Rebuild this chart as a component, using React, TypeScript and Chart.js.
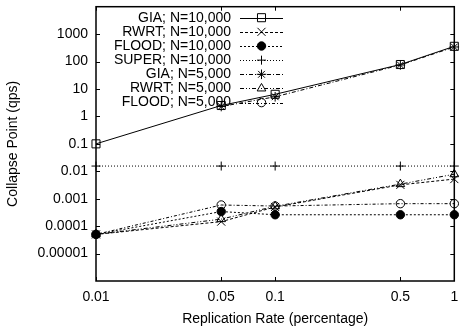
import React, { useEffect, useRef } from 'react';
import { Chart, registerables } from 'chart.js';
import { drawPoint } from 'chart.js/helpers';

Chart.register(...registerables);

// ---- data ----
const rates = [0.01, 0.05, 0.1, 0.5, 1];
const xTickLabels = ['0.01', '0.05', '0.1', '0.5', '1'];
const yTickValues = [1e-5, 1e-4, 1e-3, 1e-2, 1e-1, 1, 10, 100, 1000];
const yTickLabels = ['0.00001', '0.0001', '0.001', '0.01', '0.1', '1', '10', '100', '1000'];

const seriesLabels = [
  'GIA; N=10,000',
  'RWRT; N=10,000',
  'FLOOD; N=10,000',
  'SUPER; N=10,000',
  'GIA; N=5,000',
  'RWRT; N=5,000',
  'FLOOD; N=5,000',
];
const gia10k = [0.1, 2.5, 6.4, 78, 360];
const rwrt10k = [5e-5, 1.46e-4, 5.0e-4, 3.2e-3, 5.2e-3];
const flood10k = [5e-5, 3.4e-4, 2.6e-4, 2.6e-4, 2.6e-4];
const super10k = [0.0155, 0.0155, 0.0155, 0.0155, 0.0155];
const gia5k = [null, 2.3, 5.2, 75, 340];
const rwrt5k = [5e-5, 1.8e-4, 5.3e-4, 3.4e-3, 7.8e-3];
const flood5k = [5e-5, 5.9e-4, 5.4e-4, 6.6e-4, 6.6e-4];

const seriesValues = [gia10k, rwrt10k, flood10k, super10k, gia5k, rwrt5k, flood5k];

// ---- styles ----
const seriesStyles = [
  { dash: [], point: 'rect', radius: 5.7, fill: 'rgba(0,0,0,0)' },
  { dash: [3, 2], point: 'crossRot', radius: 5.7, fill: 'rgba(0,0,0,0)' },
  { dash: [2, 2], point: 'circle', radius: 4.2, fill: '#000' },
  { dash: [1, 2], point: 'cross', radius: 4.5, fill: 'rgba(0,0,0,0)' },
  { dash: [4, 2, 1, 2], point: 'star', radius: 4.8, fill: 'rgba(0,0,0,0)' },
  { dash: [4, 2, 1, 2, 1, 2], point: 'triangle', radius: 5, fill: 'rgba(0,0,0,0)' },
  { dash: [3, 2, 1, 2], point: 'circle', radius: 4.2, fill: 'rgba(0,0,0,0)' },
];

const FONT = '"Liberation Sans", Arial, Helvetica, sans-serif';

const framePlugin = {
  id: 'frameTicks',
  afterDatasetsDraw(chart: any) {
    const { ctx, chartArea: a, scales } = chart;
    ctx.save();
    ctx.strokeStyle = '#000';
    ctx.lineWidth = 1;
    ctx.setLineDash([]);
    const L = 4;
    ctx.beginPath();
    rates.forEach((v) => {
      const px = Math.round(scales.x.getPixelForValue(v)) + 0.5;
      ctx.moveTo(px, a.bottom);
      ctx.lineTo(px, a.bottom - L);
      ctx.moveTo(px, a.top);
      ctx.lineTo(px, a.top + L);
    });
    yTickValues.forEach((v) => {
      const py = Math.round(scales.y.getPixelForValue(v)) + 0.5;
      ctx.moveTo(a.left, py);
      ctx.lineTo(a.left + L, py);
      ctx.moveTo(a.right, py);
      ctx.lineTo(a.right - L, py);
    });
    ctx.stroke();
    ctx.lineWidth = 1.5;
    ctx.strokeRect(a.left, a.top, a.right - a.left, a.bottom - a.top);
    ctx.restore();
  },
};

const legendPlugin = {
  id: 'gnuLegend',
  afterDraw(chart: any) {
    const { ctx, chartArea: a } = chart;
    ctx.save();
    ctx.font = `14px ${FONT}`;
    ctx.textAlign = 'right';
    ctx.textBaseline = 'middle';
    const textX = a.left + 135;
    const lineX0 = a.left + 144;
    const lineX1 = a.left + 187;
    const markX = a.left + 165.5;
    chart.data.datasets.forEach((ds: any, i: number) => {
      const y = a.top + 11 + i * 14.15;
      ctx.fillStyle = '#000';
      ctx.fillText(ds.label, textX, y);
      ctx.strokeStyle = '#000';
      ctx.lineWidth = 1;
      ctx.setLineDash(ds.borderDash || []);
      ctx.beginPath();
      ctx.moveTo(lineX0, Math.round(y) + 0.5);
      ctx.lineTo(lineX1, Math.round(y) + 0.5);
      ctx.stroke();
      ctx.setLineDash([]);
      ctx.fillStyle = ds.pointBackgroundColor;
      ctx.strokeStyle = '#000';
      drawPoint(ctx, { pointStyle: ds.pointStyle, radius: ds.pointRadius, borderWidth: 1, rotation: 0 }, markX, y);
    });
    ctx.restore();
  },
};

export default function App() {
  const ref = useRef<HTMLCanvasElement>(null);
  useEffect(() => {
    if (!ref.current) return;
    const datasets = seriesLabels.map((label, i) => {
      const st = seriesStyles[i];
      return {
        label,
        data: rates
          .map((x, j) => ({ x, y: seriesValues[i][j] }))
          .filter((p) => p.y !== null),
        borderColor: '#000',
        borderWidth: 1,
        borderDash: st.dash,
        pointStyle: st.point,
        pointRadius: st.radius,
        pointBorderColor: '#000',
        pointBackgroundColor: st.fill,
        pointBorderWidth: 1,
        fill: false,
        tension: 0,
        clip: false,
      };
    });
    const chart = new Chart(ref.current, {
      type: 'line',
      data: { datasets } as any,
      plugins: [framePlugin, legendPlugin],
      options: {
        animation: false,
        responsive: false,
        devicePixelRatio: 1,
        layout: { padding: { top: 3, right: 2, left: 0, bottom: 0 } },
        plugins: { legend: { display: false }, tooltip: { enabled: false } },
        scales: {
          x: {
            type: 'logarithmic',
            position: 'bottom',
            min: 0.01,
            max: 1,
            grid: { display: false, drawTicks: false },
            border: { display: false },
            afterBuildTicks: (s: any) => {
              s.ticks = rates.map((v) => ({ value: v }));
            },
            afterFit: (s: any) => {
              s.height = 52;
              s.paddingLeft = 0;
              s.paddingRight = 0;
            },
            ticks: {
              autoSkip: false,
              maxRotation: 0,
              padding: 8,
              color: '#000',
              font: { family: FONT, size: 14 },
              callback: (v: any) => {
                const i = rates.indexOf(Number(v));
                return i >= 0 ? xTickLabels[i] : '';
              },
            },
            title: {
              display: true,
              text: 'Replication Rate (percentage)',
              color: '#000',
              font: { family: FONT, size: 14 },
              padding: { top: 0, bottom: 5 },
            },
          },
          y: {
            type: 'logarithmic',
            position: 'left',
            min: 1e-6,
            max: 1e4,
            grid: { display: false, drawTicks: false },
            border: { display: false },
            afterBuildTicks: (s: any) => {
              s.ticks = yTickValues.map((v) => ({ value: v }));
            },
            afterFit: (s: any) => {
              s.width = 96;
              s.paddingTop = 0;
              s.paddingBottom = 0;
            },
            ticks: {
              autoSkip: false,
              padding: 8,
              color: '#000',
              font: { family: FONT, size: 14 },
              callback: (v: any) => {
                const i = yTickValues.findIndex((t) => Math.abs(t - Number(v)) / t < 1e-6);
                return i >= 0 ? yTickLabels[i] : '';
              },
            },
            title: {
              display: true,
              text: 'Collapse Point (qps)',
              color: '#000',
              font: { family: FONT, size: 14 },
              padding: { top: 5, bottom: 0 },
            },
          },
        },
      } as any,
    });
    return () => chart.destroy();
  }, []);
  return (
    <div style={{ position: 'absolute', left: 0, top: 0, width: 461, height: 333, background: '#fff' }}>
      <canvas ref={ref} width={461} height={333} />
    </div>
  );
}
